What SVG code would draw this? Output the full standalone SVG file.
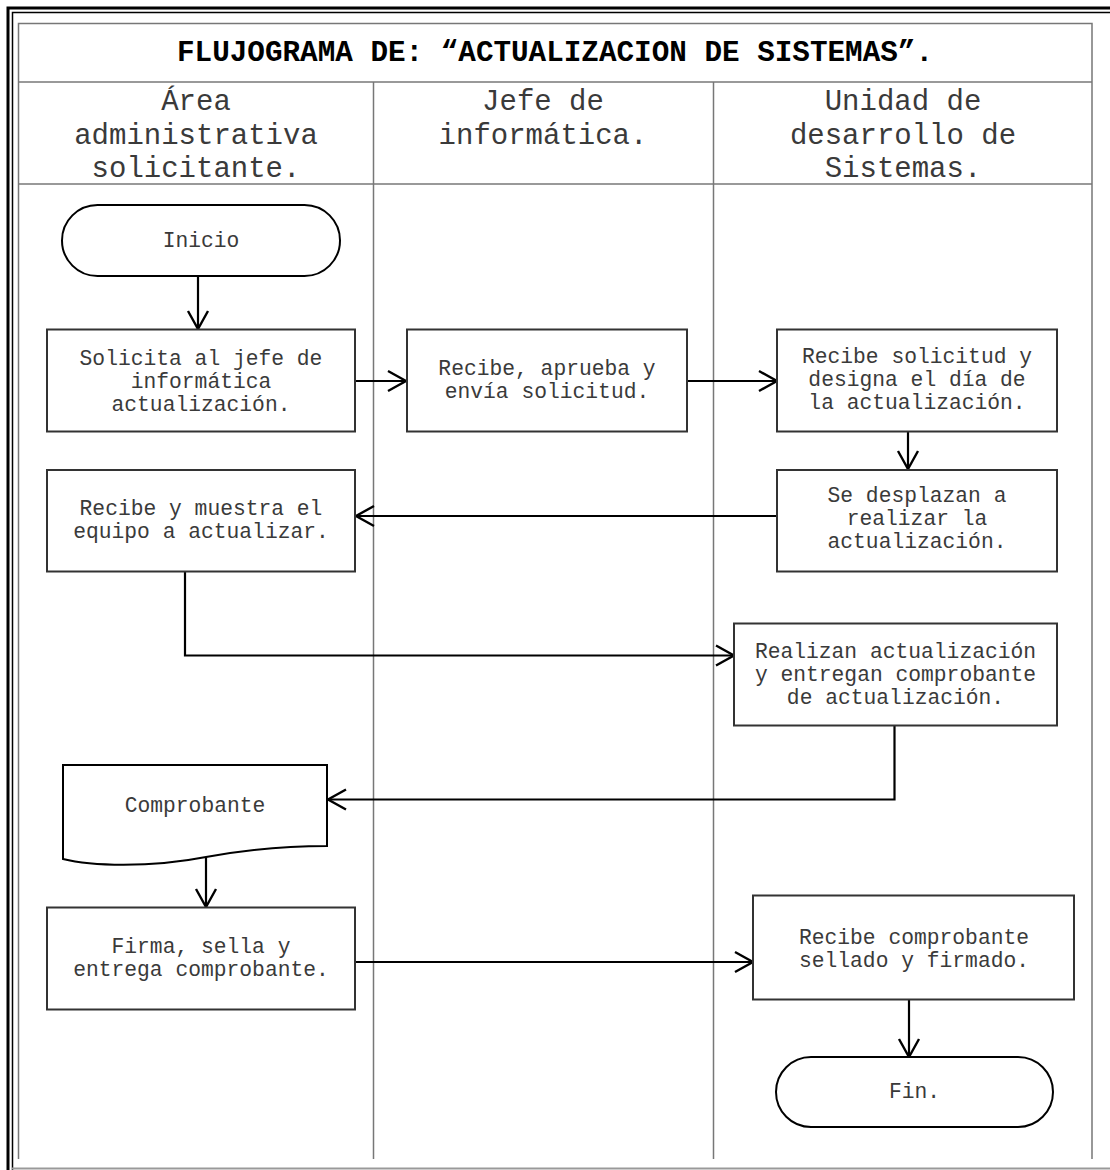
<svg xmlns="http://www.w3.org/2000/svg" width="1110" height="1170" viewBox="0 0 1110 1170">
  <style>
    .frame-thick { stroke: #000; stroke-width: 3; fill: none; }
    .frame-thin { stroke: #000; stroke-width: 1.5; fill: none; }
    .grid { stroke: #777; stroke-width: 1.5; fill: none; }
    .box { fill: #fff; stroke: #333; stroke-width: 2; }
    .term { fill: #fff; stroke: #000; stroke-width: 2; }
    .edge { fill: none; stroke: #000; stroke-width: 2.2; marker-end: url(#arrow); }
    .title { font-family: "Liberation Mono", "Courier New", monospace; font-size: 29.3px; font-weight: bold; fill: #000; text-anchor: middle; }
    .lane { font-family: "Liberation Mono", "Courier New", monospace; font-size: 29px; fill: #3a3a3a; text-anchor: middle; }
    .label { font-family: "Liberation Mono", "Courier New", monospace; font-size: 21.3px; fill: #3a3a3a; text-anchor: middle; }
  </style>
  <defs>
    <marker id="arrow" markerUnits="userSpaceOnUse" markerWidth="22" markerHeight="24" viewBox="0 0 22 24" refX="20" refY="12" orient="auto">
      <path d="M2,2 L20,12 L2,22" fill="none" stroke="#000" stroke-width="2.4"/>
    </marker>
  </defs>

  <rect width="1110" height="1170" fill="#fff"/>

  <!-- page frame -->
  <g id="frame">
    <path class="frame-thick" d="M8,1170 V8 H1110"/>
    <path class="frame-thin" d="M12.5,1170 V12.5 H1110"/>
    <line x1="12" y1="1168.5" x2="1110" y2="1168.5" stroke="#999" stroke-width="2"/>
  </g>

  <!-- swimlane table -->
  <g id="table">
    <path class="grid" d="M18.5,1159 V23.5 H1092 V1159"/>
    <line class="grid" x1="18" y1="82" x2="1092" y2="82"/>
    <line class="grid" x1="18" y1="184" x2="1092" y2="184"/>
    <line class="grid" x1="373.5" y1="82" x2="373.5" y2="1159"/>
    <line class="grid" x1="713.5" y1="82" x2="713.5" y2="1159"/>
    <text class="title" x="555" y="61">FLUJOGRAMA DE: “ACTUALIZACION DE SISTEMAS”.</text>
    <text class="lane" x="196" y="110">Área</text>
    <text class="lane" x="196" y="143.5">administrativa</text>
    <text class="lane" x="196" y="177">solicitante.</text>
    <text class="lane" x="543" y="110">Jefe de</text>
    <text class="lane" x="543" y="143.5">informática.</text>
    <text class="lane" x="903" y="110">Unidad de</text>
    <text class="lane" x="903" y="143.5">desarrollo de</text>
    <text class="lane" x="903" y="177">Sistemas.</text>
  </g>

  <!-- connectors -->
  <g id="connectors">
    <path class="edge" d="M198,276 V329"/>
    <path class="edge" d="M355,381 H406"/>
    <path class="edge" d="M687,381 H777"/>
    <path class="edge" d="M908,431 V469"/>
    <path class="edge" d="M777,516 H356"/>
    <path class="edge" d="M185,572 V655.5 H734"/>
    <path class="edge" d="M894.5,726 V799.5 H328"/>
    <path class="edge" d="M206,857 V907"/>
    <path class="edge" d="M355,962 H753"/>
    <path class="edge" d="M909,1000 V1057"/>
  </g>

  <!-- nodes -->
  <g id="inicio">
    <rect class="term" x="62" y="205" width="278" height="71" rx="35.5" ry="35.5"/>
    <text class="label" x="201" y="247">Inicio</text>
  </g>

  <g id="solicita">
    <rect class="box" x="47" y="329.5" width="308" height="102"/>
    <text class="label" x="201" y="365">Solicita al jefe de</text>
    <text class="label" x="201" y="388">informática</text>
    <text class="label" x="201" y="411">actualización.</text>
  </g>

  <g id="aprueba">
    <rect class="box" x="407" y="329.5" width="280" height="102"/>
    <text class="label" x="547" y="375">Recibe, aprueba y</text>
    <text class="label" x="547" y="398">envía solicitud.</text>
  </g>

  <g id="designa">
    <rect class="box" x="777" y="329.5" width="280" height="102"/>
    <text class="label" x="917" y="363">Recibe solicitud y</text>
    <text class="label" x="917" y="386">designa el día de</text>
    <text class="label" x="917" y="409">la actualización.</text>
  </g>

  <g id="desplazan">
    <rect class="box" x="777" y="470" width="280" height="101.5"/>
    <text class="label" x="917" y="502">Se desplazan a</text>
    <text class="label" x="917" y="525">realizar la</text>
    <text class="label" x="917" y="548">actualización.</text>
  </g>

  <g id="muestra">
    <rect class="box" x="47" y="470" width="308" height="101.5"/>
    <text class="label" x="201" y="515">Recibe y muestra el</text>
    <text class="label" x="201" y="538">equipo a actualizar.</text>
  </g>

  <g id="realizan">
    <rect class="box" x="734" y="623.5" width="323" height="102"/>
    <text class="label" x="895.5" y="658">Realizan actualización</text>
    <text class="label" x="895.5" y="681">y entregan comprobante</text>
    <text class="label" x="895.5" y="704">de actualización.</text>
  </g>

  <g id="comprobante">
    <path class="term" d="M63,765 H327 V846 C290,846 250,849 206,857 C150,868 90,866 63,859 Z"/>
    <text class="label" x="195" y="812">Comprobante</text>
  </g>

  <g id="firma">
    <rect class="box" x="47" y="907.5" width="308" height="102"/>
    <text class="label" x="201" y="953">Firma, sella y</text>
    <text class="label" x="201" y="976">entrega comprobante.</text>
  </g>

  <g id="recibe-comprobante">
    <rect class="box" x="753" y="895.5" width="321" height="104"/>
    <text class="label" x="914" y="944">Recibe comprobante</text>
    <text class="label" x="914" y="967">sellado y firmado.</text>
  </g>

  <g id="fin">
    <rect class="term" x="776" y="1057" width="277" height="70" rx="35" ry="35"/>
    <text class="label" x="914.5" y="1098">Fin.</text>
  </g>
</svg>
